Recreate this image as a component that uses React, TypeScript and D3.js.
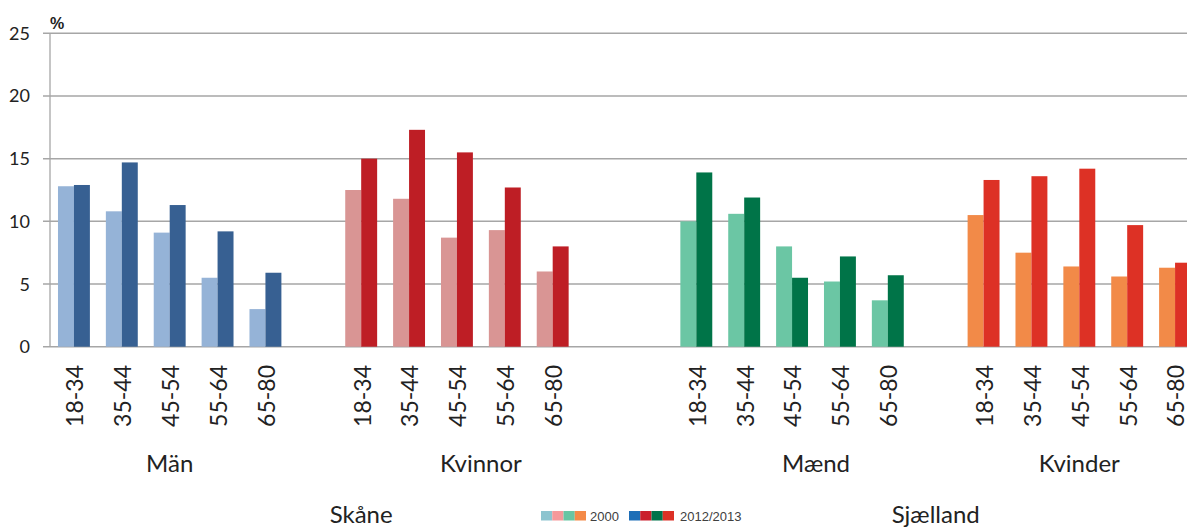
import React from "react";
import * as d3 from "d3";

// ---- data ----
const ageGroups = ["18-34", "35-44", "45-54", "55-64", "65-80"];
const sexLabels = ["Män", "Kvinnor", "Mænd", "Kvinder"];
const sexRegion = ["Skåne", "Skåne", "Sjælland", "Sjælland"];
const regionLabels = ["Skåne", "Sjælland"];
// axis slots spanned by each sex label (5 ages + trailing empty slot) and unlabeled empty slots after it
const sexSlotSpan = [5, 6, 6, 5];
const sexGapAfter = [1, 1, 0, 0];

const values2000 = [
  [12.8, 10.8, 9.1, 5.5, 3.0], // Män
  [12.5, 11.8, 8.7, 9.3, 6.0], // Kvinnor
  [10.0, 10.6, 8.0, 5.2, 3.7], // Mænd
  [10.5, 7.5, 6.4, 5.6, 6.3], // Kvinder
];
const valuesLater = [
  [12.9, 14.7, 11.3, 9.2, 5.9],
  [15.0, 17.3, 15.5, 12.7, 8.0],
  [13.9, 11.9, 5.5, 7.2, 5.7],
  [13.3, 13.6, 14.2, 9.7, 6.7],
];
const colors2000 = ["#95B3D7", "#D99594", "#6BC6A4", "#F28A48"];
const colorsLater = ["#376092", "#BE1E25", "#007448", "#DD3125"];
const legendSeries = ["2000", "2012/2013"];
const legendColors2000 = ["#8DC4CF", "#F5999B", "#68C5A3", "#F48A48"];
const legendColorsLater = ["#1E6EB7", "#CA1F2C", "#00734A", "#DC3126"];
const yTicks = [0, 5, 10, 15, 20, 25];

const W = 1187;
const H = 527;
const FONT = "Lato, 'Open Sans', sans-serif";

export default function App() {
  // build slots
  const slots: { key: string; sex: number; age: number }[] = [];
  const sexSpans: { label: string; first: number; last: number }[] = [];
  const regionSpans: Record<string, { first: number; last: number }> = {};
  let idx = 0;
  sexLabels.forEach((label, si) => {
    const first = idx;
    for (let k = 0; k < sexSlotSpan[si]; k++) {
      slots.push({ key: "s" + idx, sex: k < ageGroups.length ? si : -1, age: k < ageGroups.length ? k : -1 });
      idx++;
    }
    const last = idx - 1;
    sexSpans.push({ label, first, last });
    for (let k = 0; k < sexGapAfter[si]; k++) {
      slots.push({ key: "s" + idx, sex: -1, age: -1 });
      idx++;
    }
    const r = sexRegion[si];
    if (!regionSpans[r]) regionSpans[r] = { first, last: idx - 1 };
    else regionSpans[r].last = idx - 1;
  });

  const x0 = d3
    .scaleBand<string>()
    .domain(slots.map((s) => s.key))
    .range([50, 1199])
    .paddingInner(0)
    .paddingOuter(0);
  const x1 = d3
    .scaleBand<string>()
    .domain(legendSeries)
    .range([0, x0.bandwidth()])
    .paddingInner(0)
    .paddingOuter(0.5);
  const y = d3.scaleLinear().domain([0, 25]).range([346.7, 33.3]);

  const slotCenter = (i: number) => (x0(slots[i].key) as number) + x0.bandwidth() / 2;
  const spanCenter = (a: number, b: number) =>
    ((x0(slots[a].key) as number) + (x0(slots[b].key) as number) + x0.bandwidth()) / 2;

  const swW = 11.25;
  const swH = 9.5;

  return (
    <svg
      width={W}
      height={H}
      style={{ position: "fixed", left: 0, top: 0, background: "#fff" }}
      fontFamily={FONT}
    >
      <defs>
        <clipPath id="clip">
          <rect x={0} y={0} width={W} height={H} />
        </clipPath>
      </defs>
      {/* gridlines */}
      {yTicks.map((t) => (
        <line
          key={"g" + t}
          x1={43}
          x2={W}
          y1={y(t)}
          y2={y(t)}
          stroke="#A6A6A6"
          strokeWidth={1.5}
        />
      ))}
      <line x1={50} x2={50} y1={y(25)} y2={y(0)} stroke="#A6A6A6" strokeWidth={1.3} />
      {/* y tick labels */}
      {yTicks.map((t) => (
        <text
          key={"t" + t}
          x={30}
          y={y(t)}
          dy="0.36em"
          textAnchor="end"
          fontSize={18}
          fill="#222"
        >
          {t}
        </text>
      ))}
      <text x={50} y={28.5} fontFamily="'Liberation Sans', Arial, sans-serif" fontWeight="bold" fontSize={16} fill="#222">
        %
      </text>
      {/* bars */}
      <g clipPath="url(#clip)">
        {slots.map((s) =>
          s.sex < 0 ? null : (
            <g key={"b" + s.key} transform={`translate(${x0(s.key)},0)`}>
              <rect
                x={x1("2000")}
                width={x1.bandwidth()}
                y={y(values2000[s.sex][s.age])}
                height={y(0) - y(values2000[s.sex][s.age])}
                fill={colors2000[s.sex]}
              />
              <rect
                x={x1("2012/2013")}
                width={x1.bandwidth()}
                y={y(valuesLater[s.sex][s.age])}
                height={y(0) - y(valuesLater[s.sex][s.age])}
                fill={colorsLater[s.sex]}
              />
            </g>
          )
        )}
      </g>
      {/* category labels */}
      {slots.map((s, i) =>
        s.sex < 0 ? null : (
          <text
            key={"c" + s.key}
            transform={`translate(${slotCenter(i)},365) rotate(-90)`}
            textAnchor="end"
            dy={9.4}
            fontSize={23}
            fill="#222"
          >
            {ageGroups[s.age]}
          </text>
        )
      )}
      {/* sex labels */}
      {sexSpans.map((g) => (
        <text
          key={"sx" + g.label}
          x={spanCenter(g.first, g.last)}
          y={471.5}
          textAnchor="middle"
          fontSize={24}
          fill="#222"
        >
          {g.label}
        </text>
      ))}
      {/* region labels */}
      {regionLabels.map((r) => (
        <text
          key={"r" + r}
          x={spanCenter(regionSpans[r].first, regionSpans[r].last)}
          y={523}
          textAnchor="middle"
          fontSize={24}
          fill="#222"
        >
          {r}
        </text>
      ))}
      {/* legend */}
      <g fontFamily="'Liberation Sans', Arial, sans-serif" fontSize={13} fill="#404040">
        {legendColors2000.map((c, i) => (
          <rect key={"l0" + i} x={541 + i * swW} y={511} width={swW} height={swH} fill={c} />
        ))}
        <text x={590} y={520.5}>{legendSeries[0]}</text>
        {legendColorsLater.map((c, i) => (
          <rect key={"l1" + i} x={629 + i * swW} y={511} width={swW} height={swH} fill={c} />
        ))}
        <text x={680} y={520.5}>{legendSeries[1]}</text>
      </g>
    </svg>
  );
}
